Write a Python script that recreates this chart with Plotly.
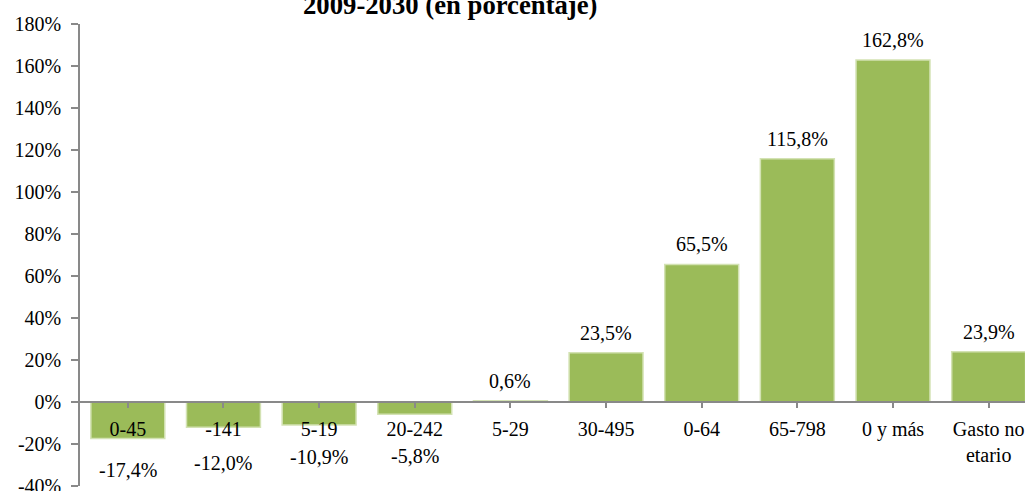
import plotly.graph_objects as go

categories = ["0-45", "-141", "5-19", "20-242", "5-29", "30-495", "0-64", "65-798", "0 y más", "Gasto no<br>etario"]
values = [-17.4, -12.0, -10.9, -5.8, 0.6, 23.5, 65.5, 115.8, 162.8, 23.9]
y_ticks = [-40, -20, 0, 20, 40, 60, 80, 100, 120, 140, 160, 180]
title_text = "2009-2030 (en porcentaje)"

# label vertical offsets (px) – style only
label_shift = [-31, -35.5, -32, -42, 20, 20, 20, 20, 20, 20]

FONT = "Liberation Serif, Times New Roman, serif"
GRAY = "#898989"

fig = go.Figure()
fig.add_trace(go.Bar(
    x=list(range(len(categories))),
    y=values,
    marker=dict(color="#9BBB59", line=dict(color="#D3E2B3", width=1.5)),
    hoverinfo="skip",
))

for i, (v, s) in enumerate(zip(values, label_shift)):
    fig.add_annotation(
        x=i, y=v, xref="x", yref="y",
        text=f"{v:.1f}".replace(".", ",") + "%",
        showarrow=False, yanchor="middle", yshift=s,
        font=dict(family=FONT, size=20, color="#000000"),
    )

fig.add_annotation(
    x=0.3923, y=1.041, xref="paper", yref="paper",
    text=f"<b>{title_text}</b>", showarrow=False,
    xanchor="center", yanchor="middle",
    font=dict(family=FONT, size=26.7, color="#000000"),
)

fig.update_layout(
    width=1025, height=491,
    margin=dict(l=80, r=0, t=24, b=5, autoexpand=False),
    paper_bgcolor="white", plot_bgcolor="white",
    showlegend=False,
    bargap=0.227,
    font=dict(family=FONT, size=20, color="#000000"),
    xaxis=dict(
        tickmode="array",
        tickvals=list(range(len(categories))),
        ticktext=categories,
        range=[-0.5, 9.38],
        anchor="free", position=40 / 220,
        showline=True, linecolor=GRAY, linewidth=1.5,
        ticks="outside", tickson="boundaries", ticklen=5, tickcolor=GRAY, tickwidth=1.5,
        showgrid=False, zeroline=False, automargin=False,
        ticklabelstandoff=4,
        tickfont=dict(family=FONT, size=20, color="#000000"),
    ),
    yaxis=dict(
        range=[-40, 180],
        tickmode="array", tickvals=y_ticks,
        ticktext=[f"{t}%" for t in y_ticks],
        showline=True, linecolor=GRAY, linewidth=1.5,
        ticks="outside", ticklen=7, tickcolor=GRAY, tickwidth=1.5,
        showgrid=False, zeroline=False, automargin=False,
        ticklabelstandoff=6,
        ticklabeloverflow="allow",
        tickfont=dict(family=FONT, size=20, color="#000000"),
    ),
)

fig.write_html(
    "out.html",
    config={"displayModeBar": False},
    post_script="document.body.style.margin='0';document.body.style.overflow='hidden';",
)
